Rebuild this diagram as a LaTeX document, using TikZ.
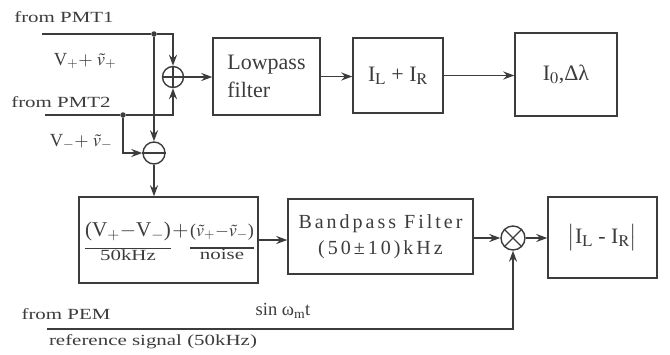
\documentclass[tikz,border=0pt]{standalone}
\usepackage{mathptmx}
\usepackage[no-math]{fontspec}
\setmainfont{Liberation Serif}
\newfontfamily\labelfont[FakeStretch=1.35]{Liberation Serif}
\newfontfamily\spacedfont[LetterSpace=15]{Liberation Serif}
\usetikzlibrary{arrows.meta}
\definecolor{ink}{HTML}{3C3C3C}
\tikzset{
  block/.style={draw=ink,line width=1.4pt,inner sep=0pt,text=ink,font=\fontsize{22}{28}\selectfont},
  mixer/.style={circle,draw=ink,line width=1.4pt,inner sep=0pt,minimum size=21pt},
  wire/.style={draw=ink,line width=1.6pt},
  flow/.style={wire,-{Stealth[length=11pt,width=8pt]}},
  tap/.style={circle,fill=ink,inner sep=0pt,minimum size=5.5pt},
  lbl/.style={font=\labelfont\fontsize{15.5}{17}\selectfont,text=ink,inner sep=1pt},
  formula/.style={font=\fontsize{18.5}{22}\selectfont,text=ink,inner sep=0pt},
  term/.style={font=\fontsize{21}{24}\selectfont,text=ink,inner xsep=0pt,inner ysep=8pt,anchor=base},
}
\begin{document}
\begin{tikzpicture}[x=1pt,y=-1pt]
  \useasboundingbox (0,0) rectangle (670,354);
  % Inputs from the two photomultipliers, split into sum and difference.
  \node[lbl] (pmtA) at (64,17) {from PMT1};
  \node[lbl] (pmtB) at (61,102) {from PMT2};
  \node[formula] (vplus) at (85,61) {V$_{+}{+}\;\tilde{v}_{+}$};
  \node[formula] (vminus) at (81,142) {V$_{-}{+}\;\tilde{v}_{-}$};
  \coordinate (inA) at (42,34);
  \coordinate (inB) at (45,115);
  \node[tap] (jA) at (154,34) {};
  \node[tap] (jB) at (123,115) {};
  \node[mixer] (sum) at (173,77) {};
  \node[mixer,minimum size=22pt] (diff) at (154,153) {};
  \draw[wire,line width=1.2pt] (sum.north) -- (sum.south) (sum.west) -- (sum.east);
  \draw[wire,line width=1.2pt] (diff.west) -- (diff.east);
  \draw[wire] (inA) -- (jA);
  \draw[flow] (jA) -| (sum);
  \draw[flow] (jA) -- (diff.north);
  \draw[wire] (inB) -- (jB);
  \draw[flow] (jB) -| (sum);
  \draw[flow] (jB) |- (diff);

  % Upper chain: lowpass branch.
  \node[block,minimum width=107pt,minimum height=77pt,align=left] (lowpass) at (266.5,76.5) {Lowpass\\filter};
  \node[block,minimum width=90pt,minimum height=75pt] (ilr) at (398,75.5) {I$_{\mathrm{L}}$ + I$_{\mathrm{R}}$};
  \node[block,minimum width=102pt,minimum height=83pt] (iout) at (566,74.5) {I$_{0}$,Δλ};
  \draw[flow] (sum) -- (sum -| lowpass.west);
  \draw[flow] (lowpass.east) -- (lowpass.east -| ilr.west);
  \draw[flow] (ilr.east) -- (ilr.east -| iout.west);

  % Lower chain: difference signal, bandpass and lock-in mixing.
  \node[block,minimum width=179pt,minimum height=86pt] (mix) at (168.5,240) {};
  \node[term] (dc) at (128,236) {(V$_{+}{-}$V$_{-}$)};
  \node[term] (join) at (180.5,236) {${+}$};
  \node[term,font=\fontsize{18}{24}\selectfont] (ac) at (222,236) {($\tilde{v}_{+}{-}\tilde{v}_{-}$)};
  \draw[wire,line width=1.4pt] (dc.south west) -- (dc.south east);
  \draw[wire,line width=1.4pt] (ac.south west) -- (ac.south east);
  \node[lbl,anchor=north] (dclbl) at (dc.south) {50kHz};
  \node[lbl,anchor=north] (aclbl) at (ac.south) {noise};
  \draw[flow] (diff) -- (diff |- mix.north);

  \node[block,minimum width=185pt,minimum height=75pt,font=\spacedfont\fontsize{20}{26}\selectfont,align=center] (bp) at (380.5,236.5) {Bandpass Filter\\(50±10)kHz};
  \node[mixer,minimum size=24pt] (mult) at (513,238) {};
  \draw[wire,line width=1.2pt] (mult.north west) -- (mult.south east) (mult.north east) -- (mult.south west);
  \node[block,minimum width=109pt,minimum height=81pt] (absdiff) at (602.5,237.5) {$\bigl|$I$_{\mathrm{L}}$ - I$_{\mathrm{R}}$$\bigr|$};
  \draw[flow] (mix.east) -- (mix.east -| bp.west);
  \draw[flow] (bp.east |- mult) -- (mult);
  \draw[flow] (mult) -- (mult -| absdiff.west);

  % Reference from the photoelastic modulator.
  \node[lbl] (pem) at (66,314) {from PEM};
  \node[formula] (sinref) at (283,311) {sin ω$_{\mathrm{m}}$t};
  \node[lbl] (reflbl) at (153,342) {reference signal (50kHz)};
  \coordinate (inC) at (47,329);
  \draw[flow] (inC) -| (mult);
\end{tikzpicture}
\end{document}
